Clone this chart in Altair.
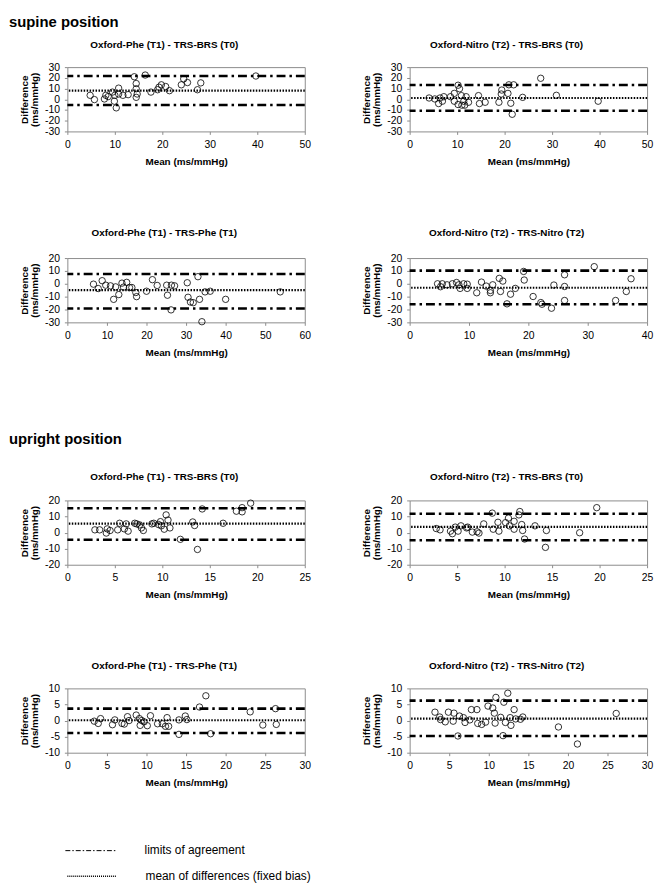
import altair as alt
import pandas as pd

FONT = "Liberation Sans"
GRAY = "#8c8c8c"

# ---------------- data ----------------
section_titles = ["supine position", "upright position"]
panel_titles = [
    "Oxford-Phe (T1) - TRS-BRS (T0)",
    "Oxford-Nitro (T2) - TRS-BRS (T0)",
    "Oxford-Phe (T1) - TRS-Phe (T1)",
    "Oxford-Nitro (T2) - TRS-Nitro (T2)",
    "Oxford-Phe (T1) - TRS-BRS (T0)",
    "Oxford-Nitro (T2) - TRS-BRS (T0)",
    "Oxford-Phe (T1) - TRS-Phe (T1)",
    "Oxford-Nitro (T2) - TRS-Nitro (T2)",
]
x_title = "Mean (ms/mmHg)"
y_title = ["Difference", "(ms/mmHg)"]
x_domains = [(0, 50), (0, 50), (0, 60), (0, 40), (0, 25), (0, 25), (0, 30), (0, 30)]
x_steps = [10, 10, 10, 10, 5, 5, 5, 5]
y_domains = [(-30, 30), (-30, 30), (-30, 20), (-30, 20), (-20, 20), (-20, 20), (-10, 10), (-10, 10)]
y_steps = [10, 10, 10, 10, 10, 10, 5, 5]

loa_upper = [21.7, 13.3, 7.6, 10.2, 15.1, 11.7, 3.7, 6.2]
bias = [8.0, 1.2, -5.0, -3.1, 5.6, 3.6, 0.1, 0.6]
loa_lower = [-5.3, -10.7, -19.2, -15.9, -4.5, -4.8, -3.9, -4.8]

p1_mean = [4.8, 5.7, 7.8, 8.1, 8.6, 9.5, 10.0, 9.9, 10.3, 10.8, 10.8, 11.7, 12.8, 14.1, 14.5, 14.5,
           14.5, 14.7, 16.4, 17.6, 19.0, 19.3, 19.8, 20.7, 21.5, 24.0, 24.5, 25.3, 27.4, 28.1, 39.7]
p1_diff = [3.7, -0.3, 0.3, 3.7, 2.5, 6.7, 3.7, -1.8, -8.0, 10.4, 4.9, 3.7, 4.3, 21.0, 14.7, 9.8,
           1.8, 4.9, 22.6, 6.7, 8.9, 11.3, 13.5, 11.9, 8.0, 13.5, 19.0, 15.6, 8.9, 15.3, 21.7]

p2_mean = [4.1, 5.3, 6.1, 6.4, 6.9, 7.2, 8.6, 9.4, 9.4, 10.2, 10.5, 10.2, 10.9, 11.0, 11.4, 11.6, 11.9,
           12.4, 14.5, 14.7, 15.9, 18.8, 19.3, 19.4, 20.7, 20.9, 21.3, 21.6, 21.9, 23.8, 27.6, 30.9, 39.7]
p2_diff = [1.2, 0.3, -4.0, 1.2, -1.8, 2.4, 2.4, 5.5, -1.8, 13.1, 9.8, -4.9, 3.4, -5.5, -1.8, -5.5, 2.4,
           -2.8, 3.4, -4.0, -2.8, -2.8, 4.9, 8.6, 5.5, 13.5, -3.7, -14.0, 13.5, 1.8, 19.6, 3.7, -1.8]

p3_mean = [6.6, 7.8, 8.8, 9.7, 10.9, 11.7, 12.2, 13.0, 13.8, 14.2, 15.0, 15.7, 16.3, 17.3, 17.5, 20.0,
           21.5, 22.7, 25.1, 25.3, 26.2, 26.3, 27.1, 30.3, 30.5, 31.1, 31.8, 33.0, 33.4, 34.0, 34.8,
           36.1, 40.0, 53.8]
p3_diff = [-0.3, -3.7, 2.4, -1.1, -1.6, -12.1, -2.4, -8.4, 0.5, -2.6, 1.1, -2.9, -2.9, -6.8, -10.0, -5.8,
           3.2, -1.3, -1.1, -8.9, -20.3, -1.1, -1.6, 0.8, -10.5, -14.2, -14.7, 5.5, -12.1, -29.5, -6.3,
           -5.8, -12.1, -6.3]

p4_mean = [4.7, 5.2, 5.5, 6.3, 7.2, 7.9, 8.3, 8.5, 9.1, 9.7, 9.7, 11.3, 12.1, 12.9, 13.6, 13.6, 14.0,
           15.1, 15.3, 15.7, 16.4, 17.0, 17.8, 19.2, 19.3, 20.8, 22.1, 22.3, 23.9, 24.3, 26.1, 26.1, 26.1,
           31.1, 34.7, 36.5, 37.3]
p4_diff = [0.0, -2.3, 0.0, -0.8, 0.0, 1.0, -0.8, -3.6, 0.0, -0.3, -3.6, -7.0, 1.3, -1.8, -5.2, -7.0, -0.8,
           4.2, -6.0, 2.1, -15.6, -8.1, -3.6, 9.6, 2.9, -9.9, -14.6, -15.9, -19.0, -1.0, 7.0, -2.1, -13.0,
           13.3, -13.0, -6.0, 3.9]

p5_mean = [2.9, 3.4, 4.1, 4.2, 4.5, 5.3, 5.5, 6.0, 6.2, 6.4, 7.1, 7.3, 7.6, 7.8, 8.0, 8.9, 9.1, 9.6, 9.8,
           9.9, 10.2, 10.4, 10.6, 10.8, 11.9, 13.2, 13.4, 13.7, 14.2, 16.4, 17.8, 18.4, 18.4, 19.3]
p5_diff = [1.7, 1.7, -0.3, 2.3, 1.3, 1.7, 5.8, 2.3, 5.4, 0.9, 5.8, 5.4, 4.8, 2.9, 1.3, 5.4, 5.8, 5.0, 6.8,
           4.2, 2.1, 11.0, 7.8, 2.9, -4.2, 6.6, 4.4, -10.5, 14.7, 5.8, 13.3, 15.5, 12.9, 18.3]

p6_mean = [2.8, 3.2, 4.3, 4.5, 4.8, 5.1, 5.4, 6.0, 6.1, 6.6, 7.1, 7.3, 7.8, 8.7, 8.8, 9.3, 9.4, 10.1,
           10.4, 10.5, 11.0, 11.0, 11.5, 11.6, 11.8, 11.9, 12.1, 13.2, 14.3, 14.4, 17.9, 19.7]
p6_diff = [2.5, 1.7, 0.9, -0.7, 3.4, 0.9, 4.2, 2.9, 3.4, 0.3, 0.5, -0.3, 5.4, 12.1, 2.1, 6.4, 0.9, 6.2,
           9.0, 4.2, 7.0, 2.1, 11.0, 13.1, 5.0, 1.3, -4.0, 4.2, -9.2, 1.3, -0.1, 15.5]

p7_mean = [3.4, 3.9, 4.2, 5.7, 6.0, 6.9, 7.2, 7.6, 7.8, 8.7, 9.1, 9.2, 9.4, 9.7, 10.1, 10.5, 11.4, 12.0,
           12.4, 12.6, 12.8, 14.1, 14.1, 14.9, 15.1, 16.7, 17.5, 18.1, 23.1, 24.7, 26.3, 26.4]
p7_diff = [-0.2, -0.9, 0.6, -1.3, 0.2, -0.9, -1.1, 1.2, 0.0, 1.7, 0.6, -1.5, 0.0, -0.4, -1.6, 1.5, -1.0,
           -1.0, -1.8, 0.9, -1.8, -4.3, 0.2, 1.4, 0.3, 4.2, 7.7, -4.1, 2.7, -1.4, 3.7, -1.2]

p8_mean = [3.2, 3.8, 3.9, 4.9, 5.6, 6.3, 6.8, 7.8, 8.5, 9.9, 10.5, 10.7, 10.9, 11.9, 12.4, 12.7, 13.2,
           14.3, 26.1, 4.5, 5.5, 6.1, 7.0, 7.6, 8.6, 9.1, 9.6, 10.8, 11.5, 12.1, 12.8, 13.4, 11.8, 18.8,
           21.2, 14.0]
p8_diff = [2.6, 1.1, 0.3, 2.6, 2.3, 1.4, 0.9, 3.4, 3.4, 4.5, 3.9, 2.3, 7.2, 5.7, 8.5, 0.9, 3.4, 1.1, 2.2,
           -0.4, -0.2, -4.8, -0.6, 0.2, -0.9, -1.2, -0.5, -0.8, 1.0, -0.6, -1.5, 0.5, -4.7, -2.0, -7.3, 0.4]

means = [p1_mean, p2_mean, p3_mean, p4_mean, p5_mean, p6_mean, p7_mean, p8_mean]
diffs = [p1_diff, p2_diff, p3_diff, p4_diff, p5_diff, p6_diff, p7_diff, p8_diff]

legend_labels = ["limits of agreement", "mean of differences (fixed bias)"]

# ---------------- layout / style ----------------
W, H = 240, 65
LOA_DASH = [9, 4, 2.5, 4]
MEAN_DASH = [1.5, 1.5]
row_title_dy = [-22, -25, -24, -23]
row_extent = [(-54, 128), (-63, 167), (-76, 134), (-54, 116)]
row_header_y = {0: -53, 2: -69}


def rng(lo, hi, step):
    out, v = [], lo
    while v <= hi + 1e-9:
        out.append(v)
        v += step
    return out


def panel(i, row, left):
    x0, x1 = x_domains[i]
    y0, y1 = y_domains[i]
    xenc = alt.X(
        "mean:Q",
        scale=alt.Scale(domain=[x0, x1], nice=False, zero=False),
        axis=alt.Axis(
            values=rng(x0, x1, x_steps[i]), title=x_title, grid=False, domain=False,
            labelFlush=False, labelFont=FONT, labelFontSize=10.5, labelColor="black",
            labelPadding=5, tickColor=GRAY, tickSize=3,
            titleFont=FONT, titleFontSize=10, titleFontWeight="bold", titleColor="black",
            titlePadding=7,
        ),
    )
    yenc = alt.Y(
        "diff:Q",
        scale=alt.Scale(domain=[y0, y1], nice=False, zero=False),
        axis=alt.Axis(
            values=rng(y0, y1, y_steps[i]), title=y_title, grid=False, domain=False,
            labelExpr="'' + datum.value", labelFont=FONT, labelFontSize=10.5, labelColor="black",
            labelPadding=5, tickColor=GRAY, tickSize=3,
            titleFont=FONT, titleFontSize=10, titleFontWeight="bold", titleColor="black",
            titlePadding=5, titleLineHeight=10,
        ),
    )
    pts = pd.DataFrame({"mean": means[i], "diff": diffs[i]})
    points = alt.Chart(pts).mark_point(
        shape="circle", filled=False, size=42, strokeWidth=0.8, color="black", opacity=1
    ).encode(x=xenc, y=yenc)
    loa = alt.Chart(pd.DataFrame({"diff": [loa_upper[i], loa_lower[i]]})).mark_rule(
        color="black", strokeWidth=2.6, strokeDash=LOA_DASH
    ).encode(y=yenc)
    mean_rule = alt.Chart(pd.DataFrame({"diff": [bias[i]]})).mark_rule(
        color="black", strokeWidth=2.2, strokeDash=MEAN_DASH
    ).encode(y=yenc)
    title = alt.Chart(pd.DataFrame({"t": [panel_titles[i]]})).mark_text(
        font=FONT, fontSize=10, fontWeight="bold", color="black", align="center", baseline="middle"
    ).encode(x=alt.value(W / 2 - 22), y=alt.value(row_title_dy[row]), text="t:N")
    layers = [points, loa, mean_rule, title]
    if left:
        top, bot = row_extent[row]
        spacer = alt.Chart(pd.DataFrame({"a": [0]})).mark_rule(
            strokeOpacity=0, strokeWidth=1
        ).encode(x=alt.value(-59), y=alt.value(top), y2=alt.value(bot))
        layers.append(spacer)
        if row in row_header_y:
            hdr = alt.Chart(pd.DataFrame({"t": [section_titles[0 if row == 0 else 1]]})).mark_text(
                font=FONT, fontSize=15, fontWeight="bold", color="black", align="left", baseline="top"
            ).encode(x=alt.value(-59), y=alt.value(row_header_y[row]), text="t:N")
            layers.append(hdr)
    return alt.layer(*layers).properties(
        width=W, height=H, view=alt.ViewBackground(stroke=GRAY, strokeWidth=1)
    )


rows = []
for r in range(4):
    rows.append(
        alt.hconcat(panel(2 * r, r, True), panel(2 * r + 1, r, False), spacing=106, bounds="flush")
    )

# legend (origin is aligned with the left plot area)
leg_rule1 = alt.Chart(pd.DataFrame({"a": [0]})).mark_rule(
    color="black", strokeWidth=1, strokeDash=[5, 2, 1.5, 2]
).encode(x=alt.value(-2), x2=alt.value(50), y=alt.value(47))
leg_rule2 = alt.Chart(pd.DataFrame({"a": [0]})).mark_rule(
    color="black", strokeWidth=1.5, strokeDash=[1, 1]
).encode(x=alt.value(0), x2=alt.value(50), y=alt.value(73))
leg_text1 = alt.Chart(pd.DataFrame({"t": [legend_labels[0]]})).mark_text(
    font=FONT, fontSize=12, color="black", align="left", baseline="middle"
).encode(x=alt.value(78), y=alt.value(46), text="t:N")
leg_text2 = alt.Chart(pd.DataFrame({"t": [legend_labels[1]]})).mark_text(
    font=FONT, fontSize=12, color="black", align="left", baseline="middle"
).encode(x=alt.value(79), y=alt.value(73), text="t:N")
legend = alt.layer(leg_rule1, leg_rule2, leg_text1, leg_text2).properties(
    width=300, height=60, view=alt.ViewBackground(strokeOpacity=0)
)

chart = alt.vconcat(*rows, legend, spacing=0).properties(padding=0)

chart.save("out.html", embed_options={"renderer": "svg", "actions": False})
